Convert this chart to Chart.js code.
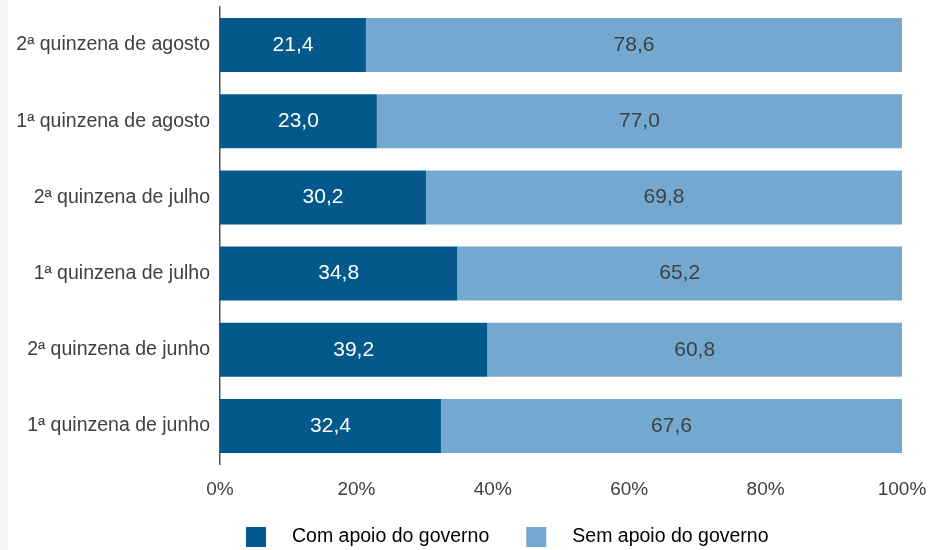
<!DOCTYPE html>
<html>
<head>
<meta charset="utf-8">
<script src="https://cdn.jsdelivr.net/npm/chart.js@4.4.0/dist/chart.umd.min.js"></script>
<style>
  html, body { margin: 0; padding: 0; background: #ffffff; }
  #wrap { position: relative; width: 921px; height: 550px; border-left: 8px solid #f5f5f5; }
  canvas { display: block; }
</style>
</head>
<body>
<div id="wrap"><canvas id="c" width="921" height="550"></canvas></div>
<script>
const categories = [
  "2ª quinzena de agosto",
  "1ª quinzena de agosto",
  "2ª quinzena de julho",
  "1ª quinzena de julho",
  "2ª quinzena de junho",
  "1ª quinzena de junho"
];
const comApoio = [21.4, 23.0, 30.2, 34.8, 39.2, 32.4];
const semApoio = [78.6, 77.0, 69.8, 65.2, 60.8, 67.6];
const seriesNames = ["Com apoio do governo", "Sem apoio do governo"];
const xTickLabels = ["0%", "20%", "40%", "60%", "80%", "100%"];

const FONT = "'Liberation Sans', Arial, sans-serif";
const DARK = "#03598b";
const LIGHT = "#73a9d0";
const TEXT = "#404040";

const valueLabels = {
  id: "valueLabels",
  afterLayout(chart) {
    // place the legend block under the plot like the original
    if (chart.legend) {
      chart.legend.left = 104.5;
      chart.legend.top = chart.chartArea.bottom + 26;
    }
  },
  afterDatasetsDraw(chart) {
    const ctx = chart.ctx;
    ctx.save();
    ctx.font = "21px " + FONT;
    ctx.textAlign = "center";
    ctx.textBaseline = "middle";
    chart.data.datasets.forEach((ds, i) => {
      const meta = chart.getDatasetMeta(i);
      meta.data.forEach((bar, j) => {
        const p = bar.getProps(["x", "y", "base"], true);
        ctx.fillStyle = i === 0 ? "#ffffff" : TEXT;
        ctx.fillText(ds.data[j].toFixed(1).replace(".", ","), (p.x + p.base) / 2, p.y);
      });
    });
    ctx.restore();
  }
};

new Chart(document.getElementById("c"), {
  type: "bar",
  data: {
    labels: categories,
    datasets: [
      { label: seriesNames[0], data: comApoio, backgroundColor: DARK },
      { label: seriesNames[1], data: semApoio, backgroundColor: LIGHT }
    ]
  },
  options: {
    indexAxis: "y",
    responsive: false,
    animation: false,
    datasets: { bar: { categoryPercentage: 0.709, barPercentage: 1.0 } },
    layout: { padding: { top: 7, right: 27, left: 0, bottom: -21 } },
    scales: {
      x: {
        stacked: true,
        min: 0, max: 100,
        grid: { display: false },
        border: { display: false },
        ticks: {
          stepSize: 20,
          padding: 6,
          color: TEXT,
          font: { family: FONT, size: 19 },
          callback: (v, i) => xTickLabels[i]
        },
        afterFit: (s) => { s.height = 40; s.paddingLeft = 0; s.paddingRight = 0; }
      },
      y: {
        stacked: true,
        grid: { display: false, drawTicks: false },
        border: { display: true, color: "#555555", width: 1.5 },
        ticks: {
          padding: 10,
          color: TEXT,
          font: { family: FONT, size: 19.5 }
        },
        afterFit: (s) => { s.width = 212; s.paddingTop = 0; s.paddingBottom = 0; }
      }
    },
    plugins: {
      tooltip: { enabled: false },
      legend: {
        position: "bottom",
        labels: {
          boxWidth: 20,
          boxHeight: 20,
          padding: 37,
          color: TEXT,
          font: { family: FONT, size: 19.5 },
          generateLabels: (chart) => chart.data.datasets.map((ds, i) => ({
            text: "   " + ds.label,
            fillStyle: ds.backgroundColor,
            strokeStyle: ds.backgroundColor,
            lineWidth: 0,
            datasetIndex: i,
            hidden: false
          }))
        }
      }
    }
  },
  plugins: [valueLabels]
});
</script>
</body>
</html>
